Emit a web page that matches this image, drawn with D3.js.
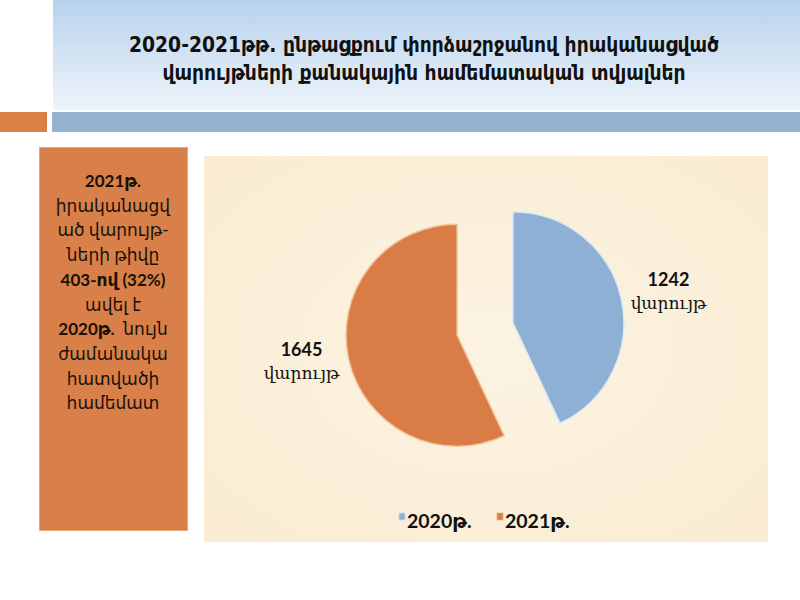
<!DOCTYPE html>
<html>
<head>
<meta charset="utf-8">
<script src="https://cdn.jsdelivr.net/npm/d3@7"></script>
<style>
  body { margin: 0; background: #fff; }
  svg { display: block; }
</style>
</head>
<body>
<div id="chart"></div>
<script>
var categories = ["2020թ.", "2021թ."];
var values = [1242, 1645];
var colors = ["#8eb0d4", "#d97c45"];
var labelUnit = "վարույթ";
var titleLines = [
  "2020-2021թթ.  ընթացքում փորձաշրջանով իրականացված",
  "վարույթների քանակային համեմատական տվյալներ"
];
// each line is a list of [text, bold] parts
var noteLines = [
  [["2021թ.", true]],
  [["իրականացվ", false]],
  [["ած վարույթ-", false]],
  [["ների թիվը", false]],
  [["403-ով (32%)", true]],
  [["ավել է", false]],
  [["2020թ.", true], ["  նույն", false]],
  [["ժամանակա", false]],
  [["հատվածի", false]],
  [["համեմատ", false]]
];

var svg = d3.select("#chart").append("svg")
	.attr("width", 800)
	.attr("height", 600);

var defs = svg.append("defs");
var tg = defs.append("linearGradient").attr("id", "titleGrad")
	.attr("x1", 0).attr("y1", 0).attr("x2", 0).attr("y2", 1);
tg.append("stop").attr("offset", "0%").attr("stop-color", "#b8d2ec");
tg.append("stop").attr("offset", "100%").attr("stop-color", "#eef4fb");

var pg = defs.append("radialGradient").attr("id", "paperGrad")
	.attr("cx", "50%").attr("cy", "50%").attr("r", "70%");
pg.append("stop").attr("offset", "0%").attr("stop-color", "#fcf3e2");
pg.append("stop").attr("offset", "100%").attr("stop-color", "#f9ecd2");

// title band
svg.append("rect")
	.attr("x", 53).attr("y", 0)
	.attr("width", 747).attr("height", 110)
	.style("fill", "url(#titleGrad)");

svg.selectAll(".title")
	.data(titleLines)
	.enter()
	.append("text")
	.attr("class", "title")
	.attr("x", 424)
	.attr("y", function (d, i) { return 52 + i * 28; })
	.attr("text-anchor", "middle")
	.style("font-family", "'DejaVu Sans Condensed', 'DejaVu Sans', sans-serif")
	.style("font-weight", "bold")
	.style("font-size", "20.8px")
	.style("fill", "#111")
	.text(function (d) { return d; });

// bars under title
svg.append("rect")
	.attr("x", 0).attr("y", 112)
	.attr("width", 47).attr("height", 20)
	.style("fill", "#dc8046");
svg.append("rect")
	.attr("x", 52).attr("y", 112)
	.attr("width", 748).attr("height", 20)
	.style("fill", "#93b3d1");

// note box
svg.append("rect")
	.attr("x", 39.5).attr("y", 147.5)
	.attr("width", 148).attr("height", 383)
	.style("fill", "#d9804a")
	.style("stroke", "#e9a77b")
	.style("stroke-width", 1);

var notes = svg.selectAll(".note")
	.data(noteLines)
	.enter()
	.append("text")
	.attr("class", "note")
	.attr("x", 113)
	.attr("y", function (d, i) { return 187 + i * 24.7; })
	.attr("text-anchor", "middle")
	.style("font-family", "Lato, 'DejaVu Sans', sans-serif")
	.style("font-size", "17px")
	.style("fill", "#1a1208");

notes.selectAll("tspan")
	.data(function (d) { return d; })
	.enter()
	.append("tspan")
	.style("font-weight", function (d) { return d[1] ? "bold" : "normal"; })
	.style("white-space", "pre")
	.text(function (d) { return d[0]; });

// chart area
svg.append("rect")
	.attr("x", 204).attr("y", 156)
	.attr("width", 564).attr("height", 386)
	.style("fill", "url(#paperGrad)");

var cx = 485, cy = 329, radius = 111, explode = 28.6;

var pie = d3.pie().sort(null).value(function (d) { return d; });
var arc = d3.arc().innerRadius(0).outerRadius(radius);
var arcs = pie(values);

function mid(d) { return (d.startAngle + d.endAngle) / 2; }

var pieG = svg.append("g").attr("transform", "translate(" + cx + "," + cy + ")");

var slices = pieG.selectAll(".slice")
	.data(arcs)
	.enter()
	.append("g")
	.attr("class", "slice")
	.attr("transform", function (d) {
	var a = mid(d);
	return "translate(" + (Math.sin(a) * explode) + "," + (-Math.cos(a) * explode) + ")";
});

slices.append("path")
	.attr("d", arc)
	.style("fill", function (d, i) { return colors[i]; })
	.style("stroke", function (d, i) { return i == 0 ? "#dce9f5" : "#f3c39a"; })
	.style("stroke-width", 1.5)
	.style("stroke-linejoin", "round");

// data labels
var labels = pieG.selectAll(".lbl")
	.data(arcs)
	.enter()
	.append("g")
	.attr("class", "lbl")
	.attr("transform", function (d) {
	var a = mid(d);
	return "translate(" + (Math.sin(a) * 188) + "," + (-Math.cos(a) * 160) + ")";
});

labels.append("text")
	.attr("y", -8)
	.attr("text-anchor", "middle")
	.style("font-family", "Lato, 'DejaVu Sans', sans-serif")
	.style("font-weight", "bold")
	.style("font-size", "18px")
	.style("fill", "#111")
	.text(function (d) { return d.data; });

labels.append("text")
	.attr("y", 15)
	.attr("text-anchor", "middle")
	.style("font-family", "'DejaVu Serif', serif")
	.style("font-size", "17px")
	.style("fill", "#111")
	.text(labelUnit);

// legend
var legend = svg.selectAll(".leg")
	.data(categories)
	.enter()
	.append("g")
	.attr("class", "leg")
	.attr("transform", function (d, i) { return "translate(" + (399 + i * 98) + ",513)"; });

legend.append("rect")
	.attr("width", 6).attr("height", 7)
	.style("fill", function (d, i) { return colors[i]; })
	.style("stroke", function (d, i) { return i == 0 ? "#c9dcef" : "#f0b080"; })
	.style("stroke-width", 0.8);

legend.append("text")
	.attr("x", 8)
	.attr("y", 15)
	.style("font-family", "Lato, 'DejaVu Sans', sans-serif")
	.style("font-weight", "bold")
	.style("font-size", "19.5px")
	.style("fill", "#111")
	.text(function (d) { return d; });
</script>
</body>
</html>
